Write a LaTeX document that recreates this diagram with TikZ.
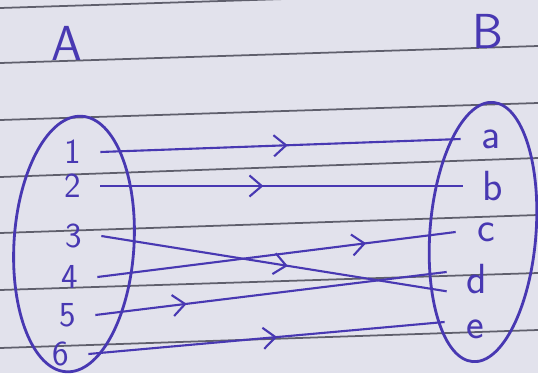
\documentclass[tikz,border=0pt]{standalone}
\usepackage{fontspec}
\usetikzlibrary{decorations.markings,arrows.meta}
\definecolor{ink}{RGB}{72,56,178}
\definecolor{paper}{RGB}{226,226,236}
\definecolor{rule}{RGB}{95,95,108}
\tikzset{
  elem/.style={
    inner sep = 0pt,
    minimum width = 1.08cm,
    text = ink,
    font = \fontsize{20}{20}\selectfont\sffamily
  },
  img/.style={
    inner sep = 0pt,
    minimum width = 1.2cm,
    text = ink,
    font = \fontsize{24}{24}\selectfont\sffamily
  },
  setname/.style={
    inner sep = 0pt,
    text = ink,
    font = \fontsize{28}{28}\selectfont\sffamily
  },
  setbag/.style={
    draw = ink,
    line width = 1.6pt
  },
  maparrow/.style={
    draw = ink,
    line width = 1.2pt,
    postaction = {decorate},
    decoration = {markings,
      mark = at position #1 with {\arrow[ink,line width=1.2pt]{Straight Barb[length=7pt,width=12pt]}}}
  }
}
\begin{document}
\begin{tikzpicture}[x=0.02cm,y=-0.02cm]
            \fill[paper] (0,0) rectangle (538,373);
            \useasboundingbox (0,0) rectangle (538,373);
            % ruled paper
            \foreach \l/\r in {8/-9,63/46,120/103,177/158,233/215,290/273,348/330}{
                    \draw[rule,line width=1pt] (0,\l) -- (538,\r);
                }
            \node[setname] (A) at (67,43) {A};
            \node[setname] (B) at (488,31) {B};
            \draw[setbag,rotate around={-3.5:(74,244)}] (74,244) ellipse [x radius=60, y radius=128];
            \draw[setbag,rotate around={-4.5:(483,232)}] (483,232) ellipse [x radius=53, y radius=130];
            \foreach \n/\x/\y in {1/73/152,2/73/186,3/74/236,4/70/277,5/68/315,6/61/354}{
                    \node[elem] (n\n) at (\x,\y) {\n};
                }
            \foreach \c/\x/\y in {a/491/139,b/493/186,c/486/232,d/477/279,e/475/329}{
                    \node[img] (l\c) at (\x,\y) {\c};
                }
            \draw[maparrow=0.52] (n1.east) -- (la.west);
            \draw[maparrow=0.45] (n2.east) -- (lb.west);
            \draw[maparrow=0.54] (n3.east) -- ([yshift=-7pt]ld.west);
            \draw[maparrow=0.75] (n4.east) -- (lc.west);
            \draw[maparrow=0.26] (n5.east) -- ([yshift=4pt]ld.west);
            \draw[maparrow=0.53] (n6.east) -- ([yshift=4pt]le.west);
        \end{tikzpicture}
\end{document}
